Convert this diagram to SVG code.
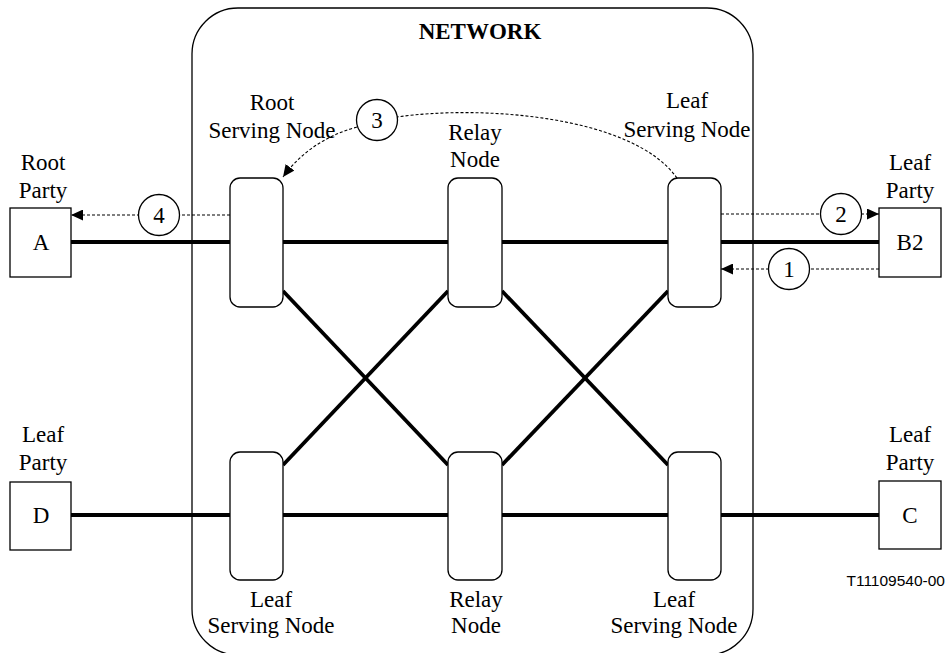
<svg xmlns="http://www.w3.org/2000/svg" width="950" height="653" viewBox="0 0 950 653">
<style>
text{font-family:"Liberation Serif","Times New Roman",serif;font-size:23px;fill:#000;text-anchor:middle}
.b{font-weight:bold}
.id{font-family:"Liberation Sans",Arial,sans-serif;font-size:15.5px;text-anchor:end}
.node{fill:#fff;stroke:#000;stroke-width:1.3}
.party{fill:#fff;stroke:#000;stroke-width:1.3}
.link{stroke:#000;stroke-width:3.8;fill:none}
.dash{stroke:#000;stroke-width:1.1;fill:none;stroke-dasharray:3 2}
.step{fill:#fff;stroke:#000;stroke-width:1.3}
</style>
<defs>
<marker id="ah" viewBox="0 0 12 11" refX="12" refY="5.5" markerWidth="12" markerHeight="11" markerUnits="userSpaceOnUse" orient="auto">
<path d="M0,0 L12,5.5 L0,11 Z" fill="#000"/>
</marker>
</defs>
<g id="network">
<rect x="192" y="8" width="561" height="647" rx="46" ry="46" fill="none" stroke="#000" stroke-width="1.3"/>
<text class="b" x="480" y="39">NETWORK</text>
</g>
<g id="connectors">
<line class="link" x1="71" y1="242" x2="230" y2="242"/>
<line class="link" x1="283" y1="242" x2="448" y2="242"/>
<line class="link" x1="502" y1="242" x2="668" y2="242"/>
<line class="link" x1="721" y1="242" x2="879" y2="242"/>
<line class="link" x1="71" y1="515" x2="230" y2="515"/>
<line class="link" x1="283" y1="515" x2="448" y2="515"/>
<line class="link" x1="502" y1="515" x2="668" y2="515"/>
<line class="link" x1="721" y1="515" x2="879" y2="515"/>
<line class="link" x1="283" y1="291" x2="448" y2="465"/>
<line class="link" x1="448" y1="291" x2="283" y2="465"/>
<line class="link" x1="502" y1="291" x2="668" y2="465"/>
<line class="link" x1="668" y1="291" x2="502" y2="465"/>
<line class="dash" x1="230" y1="215" x2="71" y2="215" marker-end="url(#ah)"/>
<line class="dash" x1="721" y1="214" x2="879" y2="214" marker-end="url(#ah)"/>
<line class="dash" x1="879" y1="269" x2="721" y2="269" marker-end="url(#ah)"/>
<path class="dash" d="M677,178 C632,115 480,105 397,117"/>
<path class="dash" d="M357,127 Q310,140 283,177" marker-end="url(#ah)"/>
<circle class="step" cx="159" cy="215" r="20.5"/>
<text x="159" y="223">4</text>
<circle class="step" cx="841" cy="214" r="20.5"/>
<text x="841" y="222">2</text>
<circle class="step" cx="789" cy="269" r="20.5"/>
<text x="789" y="277">1</text>
<circle class="step" cx="377" cy="120" r="20.5"/>
<text x="377" y="128">3</text>
</g>
<g id="root-serving-node">
<rect class="node" x="230" y="178" width="53" height="129" rx="10"/>
<text x="272" y="110">Root</text>
<text x="272" y="138">Serving Node</text>
</g>
<g id="relay-node-top">
<rect class="node" x="448" y="178" width="54" height="129" rx="10"/>
<text x="475" y="140">Relay</text>
<text x="475" y="167">Node</text>
</g>
<g id="leaf-serving-node-top">
<rect class="node" x="668" y="178" width="53" height="129" rx="10"/>
<text x="687" y="108">Leaf</text>
<text x="687" y="137">Serving Node</text>
</g>
<g id="leaf-serving-node-bl">
<rect class="node" x="230" y="452" width="53" height="128" rx="10"/>
<text x="271" y="607">Leaf</text>
<text x="271" y="633">Serving Node</text>
</g>
<g id="relay-node-bottom">
<rect class="node" x="448" y="452" width="54" height="128" rx="10"/>
<text x="476" y="607">Relay</text>
<text x="476" y="633">Node</text>
</g>
<g id="leaf-serving-node-br">
<rect class="node" x="668" y="452" width="53" height="128" rx="10"/>
<text x="674" y="607">Leaf</text>
<text x="674" y="633">Serving Node</text>
</g>
<g id="party-a">
<rect class="party" x="10" y="208" width="61" height="69"/>
<text x="41" y="250">A</text>
<text x="43" y="170">Root</text>
<text x="43" y="198">Party</text>
</g>
<g id="party-b2">
<rect class="party" x="879" y="208" width="62" height="69"/>
<text x="910" y="250">B2</text>
<text x="910" y="170">Leaf</text>
<text x="910" y="198">Party</text>
</g>
<g id="party-d">
<rect class="party" x="10" y="482" width="61" height="68"/>
<text x="41" y="523">D</text>
<text x="43" y="442">Leaf</text>
<text x="43" y="470">Party</text>
</g>
<g id="party-c">
<rect class="party" x="879" y="481" width="62" height="68"/>
<text x="910" y="523">C</text>
<text x="910" y="442">Leaf</text>
<text x="910" y="470">Party</text>
</g>
<text class="id" x="945" y="586">T11109540-00</text>
</svg>
